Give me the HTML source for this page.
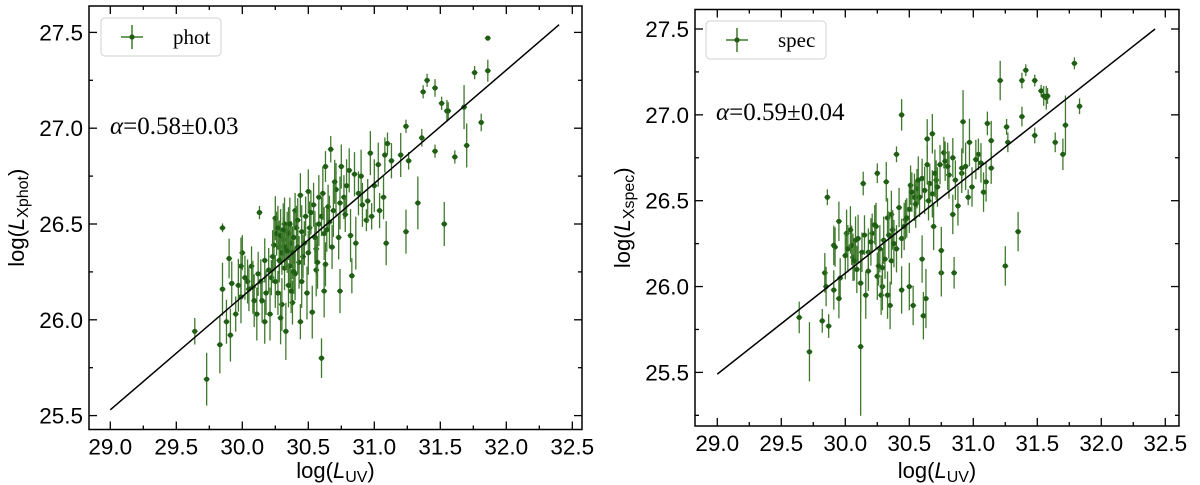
<!DOCTYPE html>
<html><head><meta charset="utf-8"><style>
body{margin:0;background:#fff;width:1200px;height:485px;overflow:hidden;font-family:"Liberation Sans",sans-serif}
svg{position:absolute;left:0;top:0}
</style></head><body>
<svg id="chart" width="1200" height="485"></svg>
<script>
// ----- Left panel data (phot) -----
const photX=[31.86,31.86,31.76,31.40,31.37,31.46,31.51,31.55,31.56,31.68,31.81,31.70,31.61,31.46,31.53,31.33,31.24,31.26,31.24,31.36,31.20,31.09,31.08,31.10,31.13,31.03,31.04,30.97,31.07,30.98,30.94,30.91,30.83,30.74,30.67,30.63,30.75,30.60,30.62,30.63,30.53,30.44,30.33,30.49,30.30,30.21,30.17,30.11,29.95,29.91,29.88,29.83,29.73,29.64,29.85,30.13,29.90,29.85,29.92,30.00,29.99,29.99,30.04,30.07,30.08,30.14,30.17,30.22,30.25,30.26,30.28,30.31,30.34,30.37,30.38,30.40,30.41,30.43,30.44,30.47,30.48,30.50,30.51,30.54,30.56,30.58,30.60,30.62,30.65,30.66,30.68,30.71,30.73,30.74,30.77,30.78,30.81,30.82,30.85,30.86,30.38,30.37,30.29,30.27,30.18,30.24,30.32,30.40,30.46,30.56,30.05,
30.27,30.29,30.30,30.32,30.33,30.35,30.36,30.39,30.42,30.45,30.28,30.31,30.34,30.36,30.39,30.42,30.20,30.23,30.12,30.09,30.02,29.97,30.52,30.55,30.58,30.61,30.64,30.69,30.70,30.79,30.88,30.90,30.95,31.00,30.35,30.45,30.50,30.25,30.15,30.57];
const photY=[27.47,27.30,27.29,27.25,27.19,27.21,27.13,27.09,27.09,27.11,27.03,26.91,26.85,26.88,26.50,26.61,26.46,26.83,27.01,26.95,26.86,26.40,26.86,26.92,26.83,26.81,26.57,26.87,26.64,26.54,26.52,26.60,26.23,26.15,26.89,26.80,26.80,25.80,26.15,26.29,26.04,25.99,25.94,26.14,26.08,26.03,25.99,26.03,26.03,25.92,25.99,25.87,25.69,25.94,26.48,26.56,26.32,26.16,26.19,26.35,26.28,26.12,26.20,26.28,26.17,26.20,26.31,26.22,26.53,26.45,26.38,26.42,26.46,26.40,26.35,26.57,26.48,26.30,26.65,26.40,26.54,26.67,26.48,26.60,26.37,26.64,26.54,26.45,26.59,26.51,26.38,26.68,26.43,26.61,26.64,26.55,26.78,26.44,26.76,26.40,26.09,26.15,26.01,26.14,26.14,26.39,26.27,26.24,26.33,26.26,26.16,
26.48,26.44,26.35,26.50,26.38,26.45,26.28,26.43,26.52,26.46,26.31,26.47,26.36,26.50,26.25,26.38,26.26,26.33,26.24,26.10,26.22,26.18,26.56,26.43,26.50,26.66,26.47,26.57,26.72,26.70,26.66,26.75,26.62,26.70,26.18,26.20,26.35,26.20,26.10,26.30];
const photYErr=[0.01,0.05,0.03,0.03,0.03,0.04,0.03,0.05,0.04,0.10,0.04,0.10,0.03,0.03,0.10,0.12,0.10,0.04,0.03,0.04,0.10,0.10,0.08,0.05,0.08,0.10,0.08,0.10,0.10,0.06,0.05,0.10,0.08,0.10,0.06,0.07,0.10,0.09,0.12,0.10,0.12,0.08,0.13,0.12,0.12,0.12,0.10,0.12,0.08,0.12,0.10,0.13,0.12,0.06,0.02,0.03,0.09,0.12,0.10,0.08,0.13,0.12,0.10,0.09,0.12,0.10,0.10,0.08,0.10,0.10,0.12,0.10,0.09,0.10,0.12,0.08,0.10,0.12,0.10,0.10,0.09,0.10,0.12,0.10,0.12,0.10,0.09,0.12,0.10,0.12,0.10,0.12,0.10,0.12,0.10,0.08,0.10,0.12,0.10,0.12,0.10,0.10,0.12,0.10,0.10,0.12,0.10,0.12,0.10,0.12,0.10,
0.10,0.12,0.10,0.12,0.10,0.12,0.10,0.12,0.10,0.12,0.10,0.12,0.10,0.12,0.10,0.12,0.10,0.12,0.10,0.12,0.10,0.12,0.10,0.12,0.10,0.12,0.10,0.12,0.10,0.12,0.10,0.12,0.10,0.12,0.10,0.12,0.10,0.12,0.10,0.12];
const photFit=[[29.0,25.53],[32.4,27.54]];
// ----- Right panel data (spec) -----
const specX=[31.79,31.83,31.72,31.70,31.64,31.48,31.48,31.41,31.38,31.38,31.53,31.55,31.57,31.58,31.21,31.26,31.27,31.35,31.25,31.11,31.14,31.14,31.10,31.08,31.04,30.97,30.99,30.96,30.92,30.91,30.85,30.84,30.88,30.75,30.75,30.77,30.68,30.64,30.69,30.63,30.61,30.53,30.50,30.44,30.40,30.60,30.44,30.35,30.33,30.28,30.29,30.25,30.32,30.14,30.12,30.12,30.16,30.06,30.05,30.01,29.96,29.92,29.91,29.95,29.86,29.84,29.85,29.91,29.95,29.87,29.82,29.72,29.64,30.04,30.08,30.18,30.21,30.24,30.30,30.31,30.36,30.37,30.40,30.44,30.47,30.50,30.51,30.54,30.56,30.60,30.64,30.68,30.71,30.74,30.78,30.81,30.84,30.91,31.02,30.29,30.36,30.18,30.25,
30.02,30.07,30.10,30.13,30.20,30.23,30.27,30.33,30.38,30.42,30.46,30.52,30.55,30.58,30.62,30.66,30.70,30.72,30.80,30.86,30.94,31.06,30.09,30.15,30.34,30.48,30.57,30.65,30.00,30.26];
const specY=[27.30,27.05,26.94,26.77,26.84,26.88,27.20,27.26,27.20,26.99,27.14,27.11,27.10,27.11,27.20,26.93,26.84,26.32,26.12,26.95,26.85,26.69,26.61,26.55,26.77,26.84,26.58,26.52,26.96,26.66,26.08,26.42,26.47,26.08,26.21,26.78,26.89,26.86,26.35,25.93,25.83,25.89,26.00,27.00,26.77,26.16,25.98,25.89,25.95,25.95,26.00,26.66,26.61,26.60,25.65,26.02,25.95,26.17,26.24,26.31,26.05,26.23,26.24,26.38,26.52,26.08,26.00,25.98,25.93,25.77,25.80,25.62,25.82,26.33,26.27,26.20,26.31,26.35,26.27,26.16,26.42,26.33,26.22,26.28,26.39,26.45,26.59,26.52,26.57,26.63,26.71,26.54,26.62,26.71,26.73,26.65,26.75,26.69,26.74,26.11,26.15,26.09,26.06,
26.22,26.15,26.28,26.20,26.26,26.36,26.22,26.40,26.25,26.46,26.35,26.55,26.48,26.52,26.56,26.60,26.66,26.58,26.70,26.62,26.70,26.72,26.10,26.30,26.30,26.40,26.62,26.50,26.18,26.12];
const specYErr=[0.03,0.04,0.15,0.08,0.05,0.04,0.03,0.03,0.04,0.05,0.03,0.05,0.06,0.04,0.10,0.04,0.05,0.10,0.10,0.06,0.10,0.08,0.10,0.10,0.08,0.12,0.10,0.04,0.16,0.10,0.08,0.10,0.10,0.12,0.12,0.08,0.10,0.10,0.12,0.15,0.12,0.10,0.12,0.08,0.04,0.12,0.12,0.12,0.12,0.10,0.12,0.05,0.10,0.06,0.35,0.15,0.12,0.12,0.10,0.12,0.10,0.10,0.10,0.10,0.04,0.10,0.10,0.10,0.10,0.06,0.06,0.15,0.08,0.12,0.12,0.12,0.10,0.12,0.12,0.10,0.12,0.10,0.12,0.10,0.10,0.12,0.10,0.12,0.10,0.10,0.10,0.12,0.10,0.10,0.10,0.12,0.10,0.10,0.10,0.10,0.12,0.10,0.12,
0.12,0.10,0.12,0.10,0.12,0.10,0.12,0.10,0.12,0.10,0.12,0.10,0.12,0.10,0.12,0.10,0.12,0.10,0.12,0.10,0.12,0.10,0.12,0.10,0.12,0.10,0.12,0.10,0.12,0.10];
const specFit=[[29.0,25.49],[32.42,27.50]];
const xTicks=["29.0","29.5","30.0","30.5","31.0","31.5","32.0","32.5"];
const yTicks=["25.5","26.0","26.5","27.0","27.5"];

const NS="http://www.w3.org/2000/svg";
const svg=document.getElementById('chart');
function mk(tag,attrs,parent){const e=document.createElementNS(NS,tag);for(const k in attrs)e.setAttribute(k,attrs[k]);(parent||svg).appendChild(e);return e;}

function panel(o){
  const g=mk('g',{});
  
  
  const X=v=>o.x0+(v-29)*o.kx, Y=v=>o.y0+(27.5-v)*o.ky;
  const [L,R,T,B]=o.frame;
  const tk=mk('g',{stroke:'#000','stroke-width':1.3},g);
  
  
  for(let v=28.75;v<=32.76;v+=0.25){const px=X(v);if(px<L||px>R)continue;const maj=Math.abs(v*2-Math.round(v*2))<1e-6;const len=maj?8:4;
    mk('line',{x1:px,x2:px,y1:B,y2:B-len},tk);mk('line',{x1:px,x2:px,y1:T,y2:T+len},tk);}
  for(let v=25.0;v<=27.76;v+=0.25){const py=Y(v);if(py<T||py>B)continue;const maj=Math.abs(v*2-Math.round(v*2))<1e-6;const len=maj?8:4;
    mk('line',{x1:L,x2:L+len,y1:py,y2:py},tk);mk('line',{x1:R,x2:R-len,y1:py,y2:py},tk);}
  xTicks.forEach(t=>{const e=mk('text',{x:X(+t),y:B+25,'text-anchor':'middle','font-size':22.5},g);e.textContent=t;
    });
  yTicks.forEach(t=>{const e=mk('text',{x:L-6,y:Y(+t)+8,'text-anchor':'end','font-size':22.5},g);e.textContent=t;
    });
  const xt=mk('text',{x:(L+R)/2,y:478,'text-anchor':'middle','font-size':22},g);
  xt.innerHTML='log(<tspan font-style="italic">L</tspan><tspan font-size="16" dy="4">UV</tspan><tspan dy="-4">)</tspan>';
  
  const yt=mk('text',{x:0,y:0,'text-anchor':'middle','font-size':22,transform:`translate(${o.ytx},${(T+B)/2}) rotate(-90)`},g);
  yt.innerHTML='log(<tspan font-style="italic">L</tspan><tspan font-size="16" dy="4">X'+o.name+'</tspan><tspan dy="-4">)</tspan>';
  
  const dg=mk('g',{},g);
  
  
  o.xs.forEach((xv,i)=>{const px=X(xv),py=Y(o.ys[i]),e=o.err[i]*o.ky*1.15;
    const l=mk('line',{x1:px,x2:px,y1:py-e,y2:py+e,stroke:'#3f7a2c','stroke-width':1.3},dg);
    
    const h=mk('line',{x1:px-3,x2:px+3,y1:py,y2:py,stroke:'#3f7a2c','stroke-width':1.3},dg);
    
    const c=mk('circle',{cx:px,cy:py,r:2.6,fill:'#1f5e14'},dg);
    });
  const fl=mk('line',{x1:X(o.fit[0][0]),y1:Y(o.fit[0][1]),x2:X(o.fit[1][0]),y2:Y(o.fit[1][1]),stroke:'#000','stroke-width':1.5},g);
  
  const fr=mk('rect',{x:L,y:T,width:R-L,height:B-T,fill:'none',stroke:'#000','stroke-width':1.5},g);
  
  const lg=mk('g',{},g);
  
  mk('rect',{x:o.leg[0],y:o.leg[1],width:120,height:38,rx:4,fill:'#fff',stroke:'#d0d0d0','stroke-width':1},lg);
  const mx=o.leg[0]+31,my=o.leg[1]+19;
  mk('line',{x1:mx,x2:mx,y1:my-12,y2:my+12,stroke:'#3f7a2c','stroke-width':1.5},lg);
  mk('line',{x1:mx-11,x2:mx+11,y1:my,y2:my,stroke:'#3f7a2c','stroke-width':1.5},lg);
  mk('circle',{cx:mx,cy:my,r:2.6,fill:'#1f5e14'},lg);
  const lt=mk('text',{x:o.leg[0]+72,y:my+7,'font-size':21,'font-family':'"Liberation Serif",serif'},lg);lt.textContent=o.name;
  
  const at=mk('text',{x:o.alpha[0],y:o.alpha[1],'font-size':25,'font-family':'"Liberation Serif",serif'},g);
  at.innerHTML='<tspan font-style="italic">α</tspan>='+o.alphaText;
  
}
panel({name:'phot',xs:photX,ys:photY,err:photYErr,fit:photFit,x0:110.3,kx:132,y0:32.4,ky:191.6,frame:[89,582,6,429.5],ytx:24,leg:[101,18],alpha:[110,134],alphaText:'0.58±0.03'});
panel({name:'spec',xs:specX,ys:specY,err:specYErr,fit:specFit,x0:717.3,kx:128,y0:29,ky:171.7,frame:[695,1179,9.5,426],ytx:630,leg:[706,21],alpha:[716,120],alphaText:'0.59±0.04'});
</script>
</body></html>
